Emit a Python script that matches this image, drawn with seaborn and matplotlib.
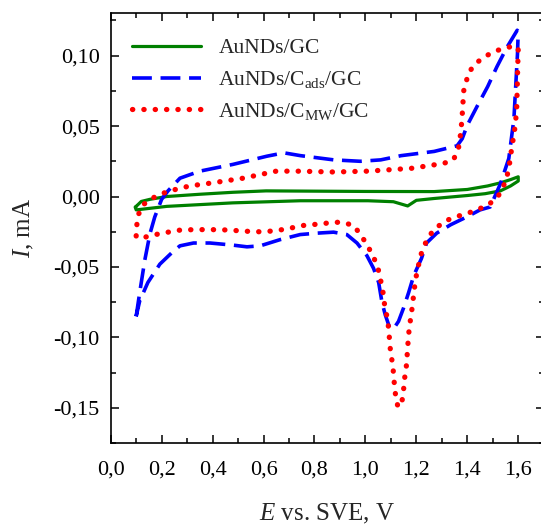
import pandas as pd
import matplotlib.pyplot as plt
import seaborn as sns

# AuNDs/GC - closed loop (anodic then cathodic)
gc_x = [0.10, 0.12, 0.154, 0.22, 0.35, 0.48, 0.61, 0.80, 1.00, 1.27, 1.40, 1.48, 1.53, 1.57, 1.60,
        1.60, 1.57, 1.53, 1.47, 1.40, 1.27, 1.20, 1.166, 1.11, 1.01, 0.745, 0.48, 0.22, 0.10, 0.096, 0.10]
gc_y = [-0.007, -0.0035, -0.002, 0.0, 0.0016, 0.003, 0.004, 0.0038, 0.0036, 0.0035, 0.005, 0.0075, 0.0097, 0.012, 0.014,
        0.011, 0.0075, 0.004, 0.002, 0.0007, -0.0014, -0.0027, -0.0067, -0.0037, -0.003, -0.003, -0.0045, -0.007, -0.0095, -0.0075, -0.007]

# AuNDs/Cads/GC
ads_x = [0.10, 0.114, 0.134, 0.154, 0.173, 0.20, 0.225, 0.272, 0.35, 0.48, 0.613, 0.68, 0.745, 0.876, 0.98,
         1.06, 1.14, 1.27, 1.36, 1.38, 1.40, 1.44, 1.48, 1.516, 1.556, 1.596,
         1.60, 1.597, 1.583, 1.563, 1.53, 1.49, 1.45, 1.40, 1.335, 1.28, 1.24, 1.22, 1.19, 1.17, 1.15, 1.13,
         1.11, 1.095, 1.078, 1.065, 1.052, 1.032, 1.006, 0.967, 0.927, 0.875, 0.81, 0.744, 0.665, 0.587, 0.535,
         0.48, 0.39, 0.325, 0.272, 0.245, 0.193, 0.146, 0.114, 0.10]
ads_y = [-0.085, -0.068, -0.045, -0.0265, -0.0145, -0.002, 0.004, 0.013, 0.018, 0.0228, 0.0286, 0.031, 0.029, 0.026, 0.025,
         0.026, 0.029, 0.032, 0.036, 0.041, 0.0506, 0.0645, 0.078, 0.092, 0.106, 0.118,
         0.117, 0.101, 0.055, 0.027, 0.009, -0.0074, -0.0095, -0.0143, -0.020, -0.026, -0.033, -0.044, -0.056, -0.068, -0.079, -0.0886,
         -0.094, -0.093, -0.084, -0.075, -0.061, -0.051, -0.042, -0.033, -0.027, -0.0253, -0.026, -0.027, -0.0306, -0.035, -0.0357,
         -0.0345, -0.033, -0.033, -0.035, -0.039, -0.048, -0.061, -0.074, -0.085]

# AuNDs/CMW/GC
mw_x = [0.10, 0.102, 0.108, 0.13, 0.16, 0.20, 0.25, 0.31, 0.40, 0.52, 0.65, 0.73, 0.876, 1.01, 1.18, 1.307, 1.346,
        1.366, 1.375, 1.38, 1.386, 1.405, 1.43, 1.47, 1.515, 1.55, 1.59,
        1.60, 1.598, 1.596, 1.594, 1.59, 1.585, 1.575, 1.566, 1.558, 1.546, 1.523, 1.483, 1.44, 1.40, 1.357, 1.314,
        1.268, 1.242, 1.222, 1.212, 1.202, 1.195, 1.19, 1.185, 1.18, 1.173, 1.169, 1.166, 1.163, 1.16, 1.153, 1.15,
        1.144, 1.128, 1.119, 1.114, 1.111, 1.107, 1.10, 1.095, 1.093, 1.088, 1.08, 1.072, 1.068, 1.058, 1.049, 1.032,
        1.01, 0.984, 0.954, 0.91, 0.868, 0.824, 0.78, 0.738, 0.695, 0.653, 0.607, 0.565, 0.52, 0.478, 0.437, 0.39,
        0.35, 0.305, 0.26, 0.22, 0.176, 0.131, 0.10]
mw_y = [-0.028, -0.021, -0.013, -0.0055, -0.0015, 0.002, 0.0048, 0.0075, 0.0097, 0.013, 0.018, 0.018, 0.0174, 0.018, 0.020, 0.0235, 0.026,
        0.035, 0.046, 0.0576, 0.075, 0.0877, 0.094, 0.0995, 0.1035, 0.1055, 0.107,
        0.104, 0.092, 0.077, 0.062, 0.054, 0.046, 0.035, 0.0235, 0.016, 0.009, 0.0008, -0.006, -0.0093, -0.012, -0.0143, -0.0173,
        -0.0236, -0.0306, -0.0387, -0.046, -0.054, -0.0614, -0.069, -0.0765, -0.084, -0.092, -0.0995, -0.107, -0.115, -0.122, -0.130, -0.137,
        -0.145, -0.1496, -0.142, -0.134, -0.127, -0.119, -0.112, -0.1036, -0.0967, -0.0886, -0.081, -0.0735, -0.066, -0.058, -0.0505, -0.043,
        -0.0354, -0.0278, -0.0206, -0.0183, -0.0183, -0.0196, -0.020, -0.021, -0.023, -0.024, -0.025, -0.025, -0.0245, -0.024, -0.0236, -0.0235,
        -0.0235, -0.0236, -0.024, -0.0255, -0.027, -0.029, -0.028]

labels = ['AuNDs/GC', 'AuNDs/C$_\\mathrm{ads}$/GC', 'AuNDs/C$_\\mathrm{MW}$/GC']

sns.set_theme(style="ticks")
plt.rcParams['font.family'] = ['Liberation Serif', 'DejaVu Serif']
plt.rcParams['mathtext.fontset'] = 'custom'
plt.rcParams['mathtext.rm'] = 'Liberation Serif'
plt.rcParams['mathtext.it'] = 'Liberation Serif:italic'

fig = plt.figure(figsize=(5.41, 5.25), dpi=100)
ax = fig.add_axes([110.7 / 541, 0.156, 433 / 541, 0.8186])

sns.lineplot(x=gc_x, y=gc_y, sort=False, estimator=None, color='#008000', label=labels[0], ax=ax)
sns.lineplot(x=ads_x, y=ads_y, sort=False, estimator=None, color='#0000ff', label=labels[1], ax=ax)
sns.lineplot(x=mw_x, y=mw_y, sort=False, estimator=None, color='#ff0000', label=labels[2], ax=ax)

# line styles: solid / dashed / round dots
green, blue, red = ax.lines[0], ax.lines[1], ax.lines[2]
green.set_linewidth(2.3)
blue.set_linewidth(2.6)
blue.set_linestyle((0, (5.5, 2.4)))
red.set_linewidth(3.8)
red.set_linestyle((0, (0.05, 2.1)))
red.set_dash_capstyle('round')

ax.set_xlim(0, 1.7)
ax.set_ylim(-0.17, 0.13)
ax.set_xticks([0.0, 0.2, 0.4, 0.6, 0.8, 1.0, 1.2, 1.4, 1.6])
ax.set_xticks([0.1, 0.3, 0.5, 0.7, 0.9, 1.1, 1.3, 1.5, 1.7], minor=True)
ax.set_yticks([-0.15, -0.10, -0.05, 0.0, 0.05, 0.10])
ax.set_yticks([-0.175, -0.125, -0.075, -0.025, 0.025, 0.075, 0.125], minor=True)
ax.set_xticklabels([f'{v:.1f}'.replace('.', ',') for v in ax.get_xticks()])
ax.set_yticklabels([f'{v:.2f}'.replace('.', ',') for v in ax.get_yticks()])
ax.tick_params(which='both', direction='in', top=True, right=True, width=1.1, colors='black', labelsize=16)
ax.tick_params(which='major', length=6)
ax.tick_params(which='minor', length=3.5)
ax.tick_params(axis='x', pad=12.5)
ax.tick_params(axis='y', pad=8)
for s in ax.spines.values():
    s.set_linewidth(1.2)
    s.set_color('black')

ax.set_xlabel('$E$ vs. SVE, V', fontsize=18, labelpad=16)
ax.set_ylabel('$I$, mA', fontsize=18, labelpad=12.5)

ax.legend(loc='upper left', bbox_to_anchor=(0.02, 0.972), frameon=False, fontsize=15.5,
          handlelength=3.2, handletextpad=0.8, labelspacing=0.5, borderaxespad=0.3, borderpad=0.3)

fig.savefig('out.png', dpi=100)
